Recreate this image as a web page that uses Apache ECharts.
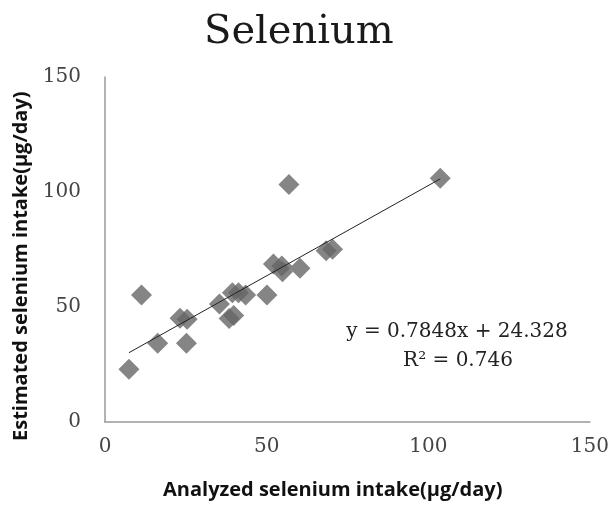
<!DOCTYPE html>
<html><head><meta charset="utf-8">
<script src="https://cdn.jsdelivr.net/npm/echarts@6/dist/echarts.min.js"></script>
<style>html,body{margin:0;padding:0;background:#fff}#c{width:612px;height:506px}</style>
</head><body><div id="c"></div>
<script>
var analyzed = [7.4, 11.3, 16.3, 25.2, 23.2, 25.4, 35.4, 38.4, 39.8, 39.4, 41.3, 43.5, 50.1, 52.1, 54.7, 54.9, 60.3, 56.9, 68.4, 70.4, 103.7];
var estimated = [22.9, 55.2, 34.2, 34.2, 45.1, 44.7, 51.3, 45.0, 46.3, 56.2, 56.2, 55.2, 55.2, 68.7, 67.8, 65.3, 66.8, 103.3, 74.5, 75.1, 106.0];
var slope = 0.7848, intercept = 24.328;
var eqLabel = 'y = 0.7848x + 24.328';
var r2Label = 'R² = 0.746';
var xTicks = [0, 50, 100, 150];
var yTicks = [0, 50, 100, 150];

var pts = analyzed.map(function(x, i){ return [x, estimated[i]]; });
var xmin = Math.min.apply(null, analyzed), xmax = Math.max.apply(null, analyzed);
var trend = [[xmin, slope*xmin+intercept], [xmax, slope*xmax+intercept]];

var chart = echarts.init(document.getElementById('c'));
var serif = '"DejaVu Serif", "Liberation Serif", serif';
chart.setOption({
  animation: false,
  title: {text: 'Selenium', left: 199, top: 8, textStyle: {fontFamily: serif, fontSize: 40, fontWeight: 'normal', color: '#1a1a1a'}},
  grid: {left: 105, right: 16, top: 77, bottom: 84},
  xAxis: {type: 'value', min: 0, max: 150, interval: 50,
    axisLine: {show: true, lineStyle: {color: '#999', width: 1.5}}, axisTick: {show: false}, splitLine: {show: false},
    axisLabel: {margin: 15, fontFamily: serif, fontSize: 20, color: '#444'}},
  yAxis: {type: 'value', min: 0, max: 150, interval: 50,
    axisLine: {show: true, lineStyle: {color: '#999', width: 1.5}}, axisTick: {show: false}, splitLine: {show: false},
    axisLabel: {margin: 24, fontFamily: serif, fontSize: 20, color: '#444'}},
  graphic: [
    {type: 'text', x: 163, y: 480, style: {text: 'Analyzed selenium intake(μg/day)', font: 'bold 20px "Open Sans", "Noto Sans", sans-serif', fill: '#111'}},
    {type: 'text', rotation: Math.PI/2, x: 11, y: 441, style: {text: 'Estimated selenium intake(μg/day)', font: 'bold 20px "Open Sans", "Noto Sans", sans-serif', fill: '#111'}},
    {type: 'text', x: 457, y: 332, style: {text: eqLabel, font: '20px "DejaVu Serif", serif', fill: '#222', align: 'center', verticalAlign: 'middle'}},
    {type: 'text', x: 458, y: 361, style: {text: r2Label, font: '20px "DejaVu Serif", serif', fill: '#222', align: 'center', verticalAlign: 'middle'}}
  ],
  series: [
    {type: 'line', data: trend, showSymbol: false, lineStyle: {color: '#222', width: 1}, z: 3},
    {type: 'scatter', data: pts, symbol: 'diamond', symbolSize: 21, itemStyle: {color: '#666'}, z: 2}
  ]
});
</script></body></html>
